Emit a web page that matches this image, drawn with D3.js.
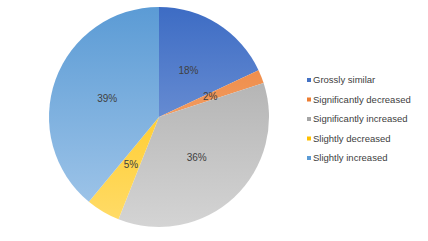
<!DOCTYPE html>
<html><head><meta charset="utf-8">
<script src="https://cdn.jsdelivr.net/npm/d3@7"></script>
<style>body{margin:0;background:#fff;}svg{display:block;}</style>
</head><body>
<script>
const categories = ["Grossly similar","Significantly decreased","Significantly increased","Slightly decreased","Slightly increased"];
const values = [18, 2, 36, 5, 39];
const labels = ["18%","2%","36%","5%","39%"];
const colorsTop = ["#3d6cc4","#ed7d31","#a5a5a5","#ffc000","#5b9bd5"];
const colorsBottom = ["#8eaadf","#f6b98e","#d4d4d4","#ffdc6a","#a4c8ea"];
const legendColors = ["#4472c4","#ed7d31","#a5a5a5","#ffc000","#5b9bd5"];

const W=428,H=241;
const svg=d3.select("body").append("svg").attr("width",W).attr("height",H);
const defs=svg.append("defs");
categories.forEach((c,i)=>{
  const g=defs.append("linearGradient").attr("id","g"+i)
    .attr("gradientUnits","userSpaceOnUse").attr("x1",0).attr("y1",-110).attr("x2",0).attr("y2",110);
  g.append("stop").attr("offset","0%").attr("stop-color",colorsTop[i]);
  g.append("stop").attr("offset","100%").attr("stop-color",colorsBottom[i]);
});
const cx=159,cy=117,r=110;
const pie=d3.pie().sort(null).value(d=>d)(values);
const arc=d3.arc().innerRadius(0).outerRadius(r);
const g=svg.append("g").attr("transform",`translate(${cx},${cy})`);
g.selectAll("path").data(pie).join("path").attr("d",arc).attr("fill",(d,i)=>`url(#g${i})`);
g.selectAll("text").data(pie).join("text")
  .attr("transform",d=>`translate(${arc.centroid(d)})`)
  .attr("text-anchor","middle").attr("dy","0.35em")
  .attr("font-family","Liberation Sans, Arial, sans-serif").attr("font-size",10).attr("fill","#404040")
  .text((d,i)=>labels[i]);
const lg=svg.append("g");
categories.forEach((c,i)=>{
  const y=80+i*19.5;
  lg.append("rect").attr("x",307).attr("y",y-2).attr("width",4).attr("height",4).attr("fill",legendColors[i]);
  lg.append("text").attr("x",313).attr("y",y).attr("dy","0.35em")
    .attr("font-family","Liberation Sans, Arial, sans-serif").attr("font-size",9.5).attr("fill","#404040").text(c);
});
</script>
</body></html>
